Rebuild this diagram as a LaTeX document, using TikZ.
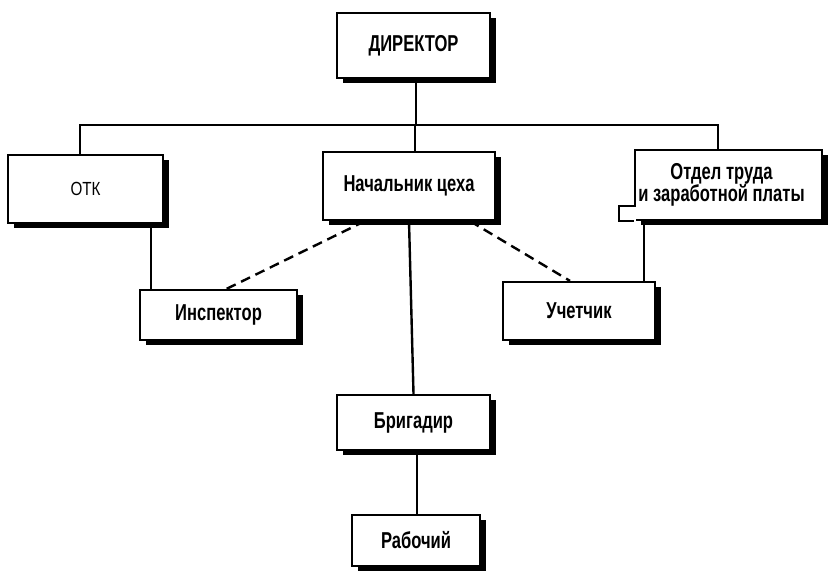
\documentclass[tikz,border=0pt]{standalone}
\usepackage{fontspec}
\setmainfont{Liberation Sans}[FakeStretch=0.72]
\newfontfamily\otkfont{Liberation Sans}[FakeStretch=0.8]
\usetikzlibrary{calc,shadows}
\begin{document}
\begin{tikzpicture}[x=1pt,y=1pt,
  box/.style={draw=black, line width=2.2pt, fill=white, inner sep=0pt,
    font=\fontsize{23}{17}\selectfont\bfseries, align=center,
    drop shadow={shadow xshift=6pt, shadow yshift=-5pt, opacity=1, fill=black}},
  conn/.style={line width=2.4pt},
  dashconn/.style={line width=2.4pt, dash pattern=on 10pt off 6pt}]
\useasboundingbox (0,0) rectangle (829,570);
% nodes (y = 570 - pixel y)
\node[box, minimum width=153pt, minimum height=65pt] (dir) at (413.5,524.5) {ДИРЕКТОР};
\node[box, minimum width=155pt, minimum height=68pt, font=\otkfont\fontsize{19}{19}\selectfont] (otk) at (85.5,381) {ОТК};
\node[box, minimum width=172pt, minimum height=68pt] (nach) at (409,384) {Начальник цеха};
\node[box, minimum width=187pt, minimum height=70pt] (otdel) at (728.5,385) {\kern-14pt\begin{tabular}{@{}c@{}}Отдел труда\\и заработной платы\end{tabular}};
\node[box, minimum width=157pt, minimum height=50pt] (insp) at (218.5,255) {Инспектор};
\node[box, minimum width=152pt, minimum height=58pt] (uch) at (579,259) {Учетчик};
\node[box, minimum width=153pt, minimum height=55pt] (brig) at (413.5,147.5) {Бригадир};
\node[box, minimum width=128pt, minimum height=51pt] (rab) at (416,29.5) {Рабочий};
% notch at lower left of otdel
\fill[white] ($(otdel.south west)+(-15,0)$) rectangle ($(otdel.south west)+(2,14)$);
\draw[line width=2.2pt] ($(otdel.south west)+(0,15)$) -- ++(-15,0) -- ++(0,-15) -- (otdel.south west);
% helper coordinates
\coordinate (busL) at (80,445);
\coordinate (busR) at (718,445);
\coordinate (dirx) at ($(dir.south)+(2.5,0)$);
\coordinate (nachx) at ($(nach.north)+(6,0)$);
\coordinate (inspx) at ($(insp.north west)+(12,0)$);
\coordinate (uchx) at ($(uch.north east)+(-12,0)$);
\coordinate (brigx) at ($(brig.south)+(3.5,0)$);
% bus
\draw[conn] (otk.north -| busL) -- (busL) -- (busR) -- (otdel.north -| busR);
\draw[conn] (dirx) -- (dirx |- busL);
\draw[conn] (nachx) -- (nachx |- busL);
% solid links
\draw[conn] (inspx |- otk.south) -- (inspx);
\draw[conn] (uchx |- otdel.south) -- (uchx);
\draw[conn] (nach.south) -- (brig.north);
\draw[conn] (brigx) -- (brigx |- rab.north);
% dashed links
\draw[dashconn] ($(nach.south)+(-44,0)$) -- ($(insp.north)+(8,0)$);
\draw[dashconn] ($(nach.south)+(61,0)$) -- ($(uch.north)+(-9,0)$);
\end{tikzpicture}
\end{document}
